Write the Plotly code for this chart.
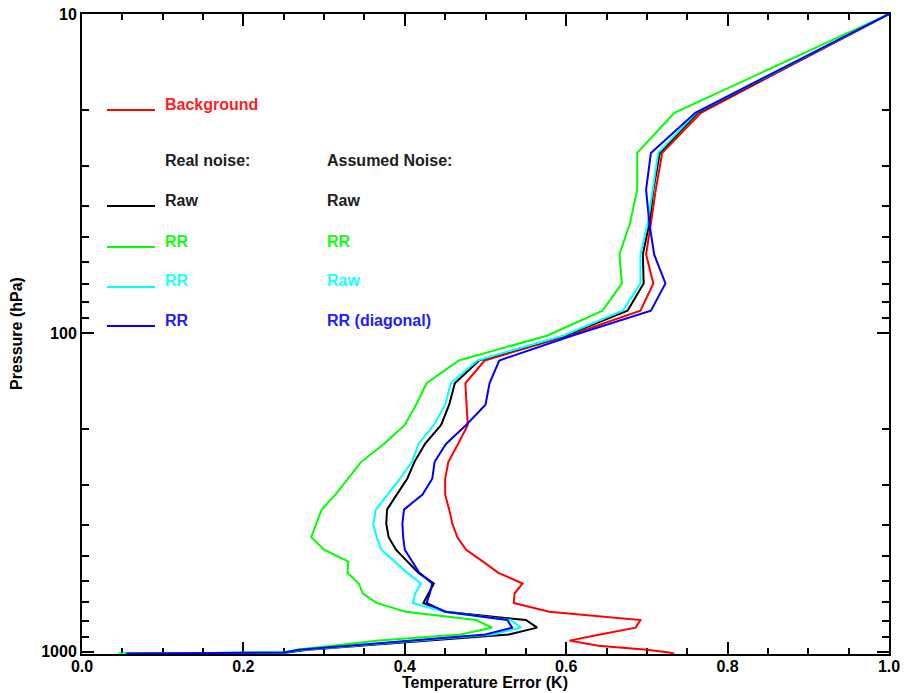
import numpy as np
import plotly.graph_objects as go

# Pressure levels (hPa)
pressure = [10, 20.4, 27.26, 35.51, 45.29, 56.73, 69.97, 85.18, 102.05, 122.04,
            143.84, 167.95, 194.36, 222.94, 253.71, 286.6, 321.5, 358.28, 396.81,
            436.95, 478.54, 521.46, 565.54, 610.6, 656.43, 702.73, 749.12, 795.09,
            839.95, 882.8, 922.46, 957.44, 985.88, 1005.43, 1013.25]

# Temperature error profiles (K)
background = [1.0, 0.767, 0.719, 0.711, 0.705, 0.699, 0.708, 0.692, 0.602, 0.499,
              0.475, 0.477, 0.478, 0.466, 0.454, 0.450, 0.450, 0.455, 0.459,
              0.465, 0.476, 0.497, 0.516, 0.546, 0.536, 0.535, 0.579, 0.692,
              0.686, 0.642, 0.604, 0.640, 0.700, 0.728, 0.734]
raw_raw = [1.0, 0.763, 0.716, 0.708, 0.703, 0.695, 0.696, 0.676, 0.598, 0.492,
           0.462, 0.455, 0.445, 0.425, 0.412, 0.403, 0.390, 0.378, 0.377,
           0.380, 0.389, 0.403, 0.417, 0.436, 0.429, 0.423, 0.451, 0.550,
           0.564, 0.529, 0.430, 0.340, 0.280, 0.255, 0.050]
rr_rr = [1.0, 0.734, 0.688, 0.688, 0.679, 0.666, 0.669, 0.645, 0.576, 0.467,
         0.427, 0.414, 0.400, 0.374, 0.346, 0.330, 0.314, 0.297, 0.290,
         0.284, 0.300, 0.330, 0.329, 0.343, 0.348, 0.365, 0.401, 0.488,
         0.508, 0.469, 0.368, 0.308, 0.265, 0.250, 0.045]
rr_raw = [1.0, 0.761, 0.714, 0.707, 0.701, 0.692, 0.692, 0.670, 0.596, 0.490,
          0.457, 0.450, 0.436, 0.417, 0.409, 0.394, 0.379, 0.364, 0.361,
          0.365, 0.371, 0.388, 0.403, 0.420, 0.413, 0.410, 0.449, 0.531,
          0.544, 0.509, 0.415, 0.330, 0.275, 0.250, 0.050]
rr_diag = [1.0, 0.760, 0.705, 0.699, 0.703, 0.709, 0.723, 0.705, 0.607, 0.517,
           0.505, 0.500, 0.476, 0.451, 0.437, 0.434, 0.422, 0.399, 0.397,
           0.398, 0.400, 0.409, 0.418, 0.434, 0.431, 0.427, 0.450, 0.527,
           0.533, 0.500, 0.405, 0.325, 0.270, 0.250, 0.055]

series = [
    ("Background", background, "#ff0000"),
    ("Raw / Raw", raw_raw, "#000000"),
    ("RR / RR", rr_rr, "#00ff00"),
    ("RR / Raw", rr_raw, "#00ffff"),
    ("RR / RR (diagonal)", rr_diag, "#0000ff"),
]

x_ticks = [0.0, 0.2, 0.4, 0.6, 0.8, 1.0]
x_ticktext = ["0.0", "0.2", "0.4", "0.6", "0.8", "1.0"]
y_ticks = [10, 100, 1000]
y_minor = [20, 30, 40, 50, 60, 70, 80, 90, 200, 300, 400, 500, 600, 700, 800, 900]

FONT = "Liberation Sans, Arial, sans-serif"
M_L, M_R, M_T, M_B = 82, 15, 14, 39

fig = go.Figure()
for name, vals, col in series:
    fig.add_trace(go.Scatter(x=vals, y=pressure, mode="lines", name=name,
                             line=dict(color=col, width=2), showlegend=False))

fig.update_layout(
    width=904, height=693,
    margin=dict(l=M_L, r=M_R, t=M_T, b=M_B, autoexpand=False),
    paper_bgcolor="white", plot_bgcolor="white",
    font=dict(family=FONT, size=16, color="black"),
)
fig.update_xaxes(
    range=[0, 1], tickvals=x_ticks, ticktext=[f"<b>{t}</b>" for t in x_ticktext],
    ticks="inside", ticklen=12, tickwidth=2, tickcolor="black",
    showline=True, linewidth=2, linecolor="black", mirror="ticks",
    showgrid=False, zeroline=False, layer="below traces", automargin=False,
    ticklabelstandoff=-3,
    minor=dict(dtick=0.05, ticks="inside", ticklen=6, tickwidth=2,
               tickcolor="black", showgrid=False),
    tickfont=dict(size=16),
)
fig.update_yaxes(
    type="log", range=[np.log10(1016), 1],
    tickvals=y_ticks, ticktext=[f"<b>{t}</b>" for t in y_ticks],
    ticks="inside", ticklen=12, tickwidth=2, tickcolor="black",
    showline=True, linewidth=2, linecolor="black", mirror="ticks",
    showgrid=False, zeroline=False, layer="below traces", automargin=False,
    minor=dict(tickvals=y_minor, ticks="inside", ticklen=7, tickwidth=2,
               tickcolor="black", showgrid=False),
    tickfont=dict(size=16),
)

PLOT_W = 904 - M_L - M_R
PLOT_H = 693 - M_T - M_B


def px(x):
    return (x - M_L) / PLOT_W


def py(y):
    return 1 - (y - M_T) / PLOT_H


# Axis titles
fig.add_annotation(text="<b>Temperature Error (K)</b>", xref="paper", yref="paper",
                   x=px(485), y=py(682), xanchor="center", yanchor="middle",
                   showarrow=False, font=dict(size=16))
fig.add_annotation(text="<b>Pressure (hPa)</b>", xref="paper", yref="paper",
                   x=px(16), y=py(334), xanchor="center", yanchor="middle",
                   textangle=-90, showarrow=False, font=dict(size=16))

# In-plot key
key_rows = [
    # (line y, text y, line colour, left text, right text, text colour)
    (110, 104, "#ff0000", "Background", None, "#ff2020"),
    (None, 160, None, "Real noise:", "Assumed Noise:", "#202020"),
    (206, 200, "#000000", "Raw", "Raw", "#202020"),
    (247, 241, "#00ff00", "RR", "RR", "#10ff10"),
    (287, 280, "#00ffff", "RR", "Raw", "#20ffff"),
    (326, 320, "#0000ff", "RR", "RR (diagonal)", "#2020ff"),
]
for ly, ty, lc, t1, t2, tc in key_rows:
    if ly is not None:
        fig.add_shape(type="line", xref="paper", yref="paper",
                      x0=px(107), x1=px(155), y0=py(ly), y1=py(ly),
                      line=dict(color=lc, width=2))
    fig.add_annotation(text=f"<b>{t1}</b>", xref="paper", yref="paper",
                       x=px(163), y=py(ty), xanchor="left", yanchor="middle",
                       showarrow=False, font=dict(size=16, color=tc))
    if t2:
        fig.add_annotation(text=f"<b>{t2}</b>", xref="paper", yref="paper",
                           x=px(325), y=py(ty), xanchor="left", yanchor="middle",
                           showarrow=False, font=dict(size=16, color=tc))

fig.write_html("out.html")
